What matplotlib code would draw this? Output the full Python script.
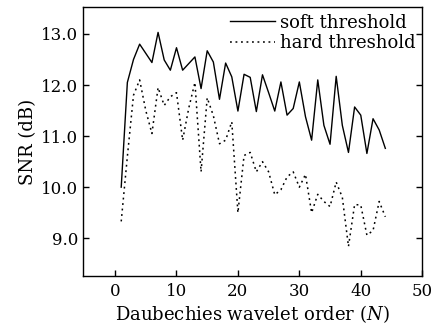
import matplotlib
matplotlib.use("Agg")
import matplotlib.pyplot as plt

# Daubechies order N = 1..44
order = list(range(1, 45))

soft_snr = [10.0, 12.05, 12.5, 12.8, 12.62, 12.44, 13.03, 12.49, 12.29, 12.73,
            12.29, 12.42, 12.55, 11.93, 12.67, 12.45, 11.72, 12.43, 12.16, 11.49,
            12.21, 12.15, 11.48, 12.2, 11.85, 11.49, 12.06, 11.41, 11.54, 12.06,
            11.38, 10.92, 12.1, 11.21, 10.84, 12.17, 11.21, 10.68, 11.57, 11.41,
            10.66, 11.34, 11.12, 10.76]

hard_snr = [9.33, 10.6, 11.8, 12.1, 11.5, 11.05, 11.95, 11.6, 11.77, 11.85,
            10.92, 11.55, 12.05, 10.3, 11.75, 11.4, 10.85, 10.92, 11.28, 9.5,
            10.62, 10.68, 10.3, 10.5, 10.3, 9.85, 9.95, 10.2, 10.3, 10.0,
            10.25, 9.5, 9.86, 9.72, 9.62, 10.1, 9.8, 8.84, 9.66, 9.65,
            9.06, 9.15, 9.72, 9.42]

xticks = [0, 10, 20, 30, 40, 50]
yticks = [9.0, 10.0, 11.0, 12.0, 13.0]

plt.rcParams['font.family'] = ['DejaVu Serif']
plt.rcParams['mathtext.fontset'] = 'dejavuserif'

fig = plt.figure(figsize=(4.33, 3.35), dpi=100)
ax = fig.add_axes([0.192, 0.176, 0.783, 0.802])

ax.plot(order, soft_snr, color='black', lw=1.0, label='soft threshold')
ax.plot(order, hard_snr, color='black', lw=1.1, linestyle=(0, (1.2, 2.4)),
        label='hard threshold')

ax.set_xlim(-5.2, 50)
ax.set_ylim(8.26, 13.52)
ax.set_xticks(xticks)
ax.set_yticks(yticks)
ax.set_yticklabels([f"{v:.1f}" for v in yticks])
ax.tick_params(direction='in', length=4, width=1, labelsize=12,
               right=True, top=False)
ax.tick_params(axis='x', pad=5)
for s in ax.spines.values():
    s.set_linewidth(1.0)

ax.set_xlabel('Daubechies wavelet order ($N$)', fontsize=13, labelpad=2)
ax.set_ylabel('SNR (dB)', fontsize=13, labelpad=3)

ax.legend(loc='upper right', frameon=False, fontsize=13, handlelength=2.5,
          handletextpad=0.3, labelspacing=0.15, borderaxespad=0.15,
          borderpad=0.2)

fig.savefig('out.png', dpi=100)
